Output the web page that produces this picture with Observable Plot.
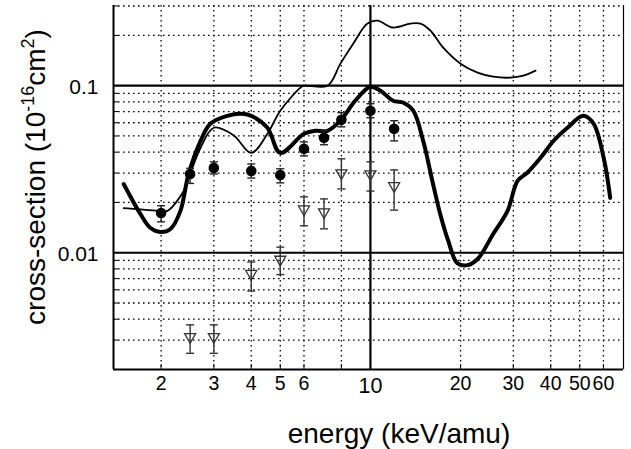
<!DOCTYPE html>
<html>
<head>
<meta charset="utf-8">
<script src="https://cdn.jsdelivr.net/npm/d3@7"></script>
<script src="https://cdn.jsdelivr.net/npm/@observablehq/plot@0.6"></script>
<style>
  html, body { margin: 0; padding: 0; background: #fff; }
  #chart svg { display: block; }
</style>
</head>
<body>
<div id="chart"></div>
<script>
// ---- data ----
const xDomain = [1.387, 70];
const yDomain = [0.002, 0.302];

const xTickLabels = [2, 3, 4, 5, 6, 8, 10, 20, 30, 40, 50, 60];
const yTickLabels = [0.01, 0.1];
const xGridMinor = [2, 3, 4, 5, 6, 8, 20, 30, 40, 50, 60];
const xGridMajor = [10];
const yGridMinor = [0.003, 0.004, 0.005, 0.006, 0.007, 0.008, 0.009,
                    0.02, 0.03, 0.04, 0.05, 0.06, 0.07, 0.08, 0.09, 0.2, 0.3];
const yGridMajor = [0.01, 0.1];

// filled circles (measurement 1)
const circleEnergy = [2, 2.5, 3, 4, 5, 6, 7, 8, 10, 12];
const circleSigma  = [0.0173, 0.0296, 0.0322, 0.0309, 0.0292, 0.0419, 0.0488, 0.0625, 0.0708, 0.0552];
const circleLo     = [0.0153, 0.0260, 0.0296, 0.0280, 0.0262, 0.0380, 0.0443, 0.0567, 0.0643, 0.0467];
const circleHi     = [0.0191, 0.0320, 0.0350, 0.0340, 0.0318, 0.0461, 0.0537, 0.0689, 0.0780, 0.0617];

// open down triangles (measurement 2)
const triEnergy = [2.5, 3, 4, 5, 6, 7, 8, 10, 12];
const triSigma  = [0.0031, 0.0031, 0.0074, 0.0090, 0.0180, 0.0173, 0.0296, 0.0292, 0.0248];
const triLo     = [0.0025, 0.0025, 0.0059, 0.0074, 0.0145, 0.0139, 0.0241, 0.0234, 0.0180];
const triHi     = [0.0037, 0.0037, 0.0088, 0.0108, 0.0216, 0.0210, 0.0365, 0.0350, 0.0313];

// thin theory curve
const thinEnergy = [1.5, 2.0, 2.1, 2.38, 2.5, 2.71, 3.0, 3.49, 4.0, 4.53, 5.0, 5.84, 6.0, 7.19,
                    7.94, 8.77, 9.77, 10.55, 11.9, 13.6, 14.7, 15.85, 17.5, 20, 22.8, 25.7, 29.3, 32.4, 35.6];
const thinSigma  = [0.0185, 0.0178, 0.0178, 0.0234, 0.0296, 0.0425, 0.056, 0.0505, 0.0396, 0.0515, 0.0708, 0.0973, 0.1, 0.1,
                    0.1355, 0.179, 0.2355, 0.245, 0.223, 0.2355, 0.2355, 0.214, 0.169, 0.1355, 0.1197, 0.1132, 0.1117, 0.1148, 0.123];

// thick theory curve
const thickEnergy = [1.5, 1.706, 1.844, 1.99, 2.15, 2.32, 2.47, 2.71, 2.92, 3.33, 3.68, 4.0, 4.53, 5.0, 6.0, 6.55, 7.19,
                     7.94, 8.9, 10, 10.8, 11.9, 12.9, 13.9, 15.0, 16.1, 17.1, 18.2, 19.5, 21.1, 22.8, 25.7, 28.7,
                     31.0, 33.4, 37.0, 40.9, 45.5, 51.4, 55.6, 60.1, 63.2];
const thickSigma  = [0.0258, 0.01706, 0.01406, 0.0133, 0.01387, 0.0178, 0.0296, 0.0468, 0.0592, 0.066, 0.0679, 0.066, 0.056, 0.0396, 0.0515, 0.0537, 0.0537,
                     0.0617, 0.0813, 0.0986, 0.0933, 0.0813, 0.0791, 0.0708, 0.0468, 0.0269, 0.01706, 0.01175, 0.00867, 0.00843, 0.00917, 0.01294, 0.0178,
                     0.0269, 0.0301, 0.037, 0.0468, 0.056, 0.066, 0.0592, 0.037, 0.0213];

// ---- build tables ----
const circles = circleEnergy.map((e, i) => ({e, s: circleSigma[i], lo: circleLo[i], hi: circleHi[i]}));
const tris = triEnergy.map((e, i) => ({e, s: triSigma[i], lo: triLo[i], hi: triHi[i]}));
const thin = thinEnergy.map((e, i) => ({e, s: thinSigma[i]}));
const thick = thickEnergy.map((e, i) => ({e, s: thickSigma[i]}));

// custom symbols
const triDown = {draw(ctx, size) {
  const r = Math.sqrt(size / Math.PI);
  ctx.moveTo(-r, -r * 0.75);
  ctx.lineTo(r, -r * 0.75);
  ctx.lineTo(0, r);
  ctx.closePath();
}};
const cap = {draw(ctx, size) {
  const r = Math.sqrt(size / Math.PI);
  ctx.moveTo(-r, 0);
  ctx.lineTo(r, 0);
}};

const font = "'Liberation Sans', Arial, Helvetica, sans-serif";
const dotted = {stroke: "#000", strokeWidth: 1.3, strokeDasharray: "1.6,3.4"};

const svg = Plot.plot({
  width: 631,
  height: 449,
  marginLeft: 113,
  marginRight: 8,
  marginTop: 5,
  marginBottom: 80,
  x: {type: "log", domain: xDomain, label: null},
  y: {type: "log", domain: yDomain, label: null},
  style: {fontFamily: font, background: "#fff", color: "#000"},
  marks: [
    Plot.ruleY(yGridMinor, dotted),
    Plot.ruleX(xGridMinor, dotted),
    Plot.ruleY(yGridMajor, {stroke: "#000", strokeWidth: 2.2}),
    Plot.ruleX(xGridMajor, {stroke: "#000", strokeWidth: 2.2}),
    // frame edges
    Plot.ruleX([xDomain[0]], {stroke: "#000", strokeWidth: 2}),
    Plot.ruleX([xDomain[1]], {stroke: "#000", strokeWidth: 1.2}),
    Plot.ruleY([yDomain[0]], {stroke: "#000", strokeWidth: 2}),
    // inward ticks
    Plot.axisY({ticks: yGridMinor, tickSize: -5, tickFormat: () => "", strokeWidth: 1, label: null}),
    Plot.axisX({ticks: xGridMinor, tickSize: -5, tickFormat: () => "", strokeWidth: 1, label: null}),
    // tick labels
    Plot.axisY({ticks: yTickLabels, tickSize: 0, tickPadding: 15, fontSize: 21, dy: 2, tickFormat: d => String(d), label: null}),
    Plot.axisX({ticks: xTickLabels.filter(d => d !== 10), tickSize: 0, tickPadding: 7, fontSize: 19.5, tickFormat: d => String(d), label: null}),
    Plot.axisX({ticks: xTickLabels.filter(d => d === 10), tickSize: 0, tickPadding: 8, fontSize: 21.5, tickFormat: d => String(d), label: null}),
    // curves
    Plot.line(thin, {x: "e", y: "s", curve: "catmull-rom", stroke: "#000", strokeWidth: 1.8}),
    Plot.line(thick, {x: "e", y: "s", curve: "catmull-rom", stroke: "#000", strokeWidth: 4}),
    // error bars
    Plot.ruleX(tris, {x: "e", y1: "lo", y2: "hi", stroke: "#333", strokeWidth: 1.4}),
    Plot.dot(tris, {x: "e", y: "lo", symbol: cap, r: 4, stroke: "#333", strokeWidth: 1.4}),
    Plot.dot(tris, {x: "e", y: "hi", symbol: cap, r: 4, stroke: "#333", strokeWidth: 1.4}),
    Plot.dot(tris, {x: "e", y: "s", symbol: triDown, r: 5.5, stroke: "#333", fill: "none", strokeWidth: 1.3}),
    Plot.ruleX(circles, {x: "e", y1: "lo", y2: "hi", stroke: "#222", strokeWidth: 1.4}),
    Plot.dot(circles, {x: "e", y: "lo", symbol: cap, r: 4, stroke: "#222", strokeWidth: 1.4}),
    Plot.dot(circles, {x: "e", y: "hi", symbol: cap, r: 4, stroke: "#222", strokeWidth: 1.4}),
    Plot.dot(circles, {x: "e", y: "s", r: 5.3, fill: "#000", stroke: "none"})
  ]
});

// axis titles
const s = d3.select(svg);
s.append("text")
  .attr("x", 399).attr("y", 443)
  .attr("text-anchor", "middle")
  .attr("font-family", font)
  .attr("font-size", 28)
  .attr("fill", "#000")
  .text("energy (keV/amu)");

const yl = s.append("text")
  .attr("transform", "translate(45,177) rotate(-90)")
  .attr("text-anchor", "middle")
  .attr("font-family", font)
  .attr("font-size", 28)
  .attr("fill", "#000");
yl.append("tspan").text("cross-section (10");
yl.append("tspan").attr("font-size", 18).attr("dy", -11).text("-16");
yl.append("tspan").attr("dy", 11).text("cm");
yl.append("tspan").attr("font-size", 18).attr("dy", -11).text("2");
yl.append("tspan").attr("dy", 11).text(")");

document.getElementById("chart").appendChild(svg);
</script>
</body>
</html>
